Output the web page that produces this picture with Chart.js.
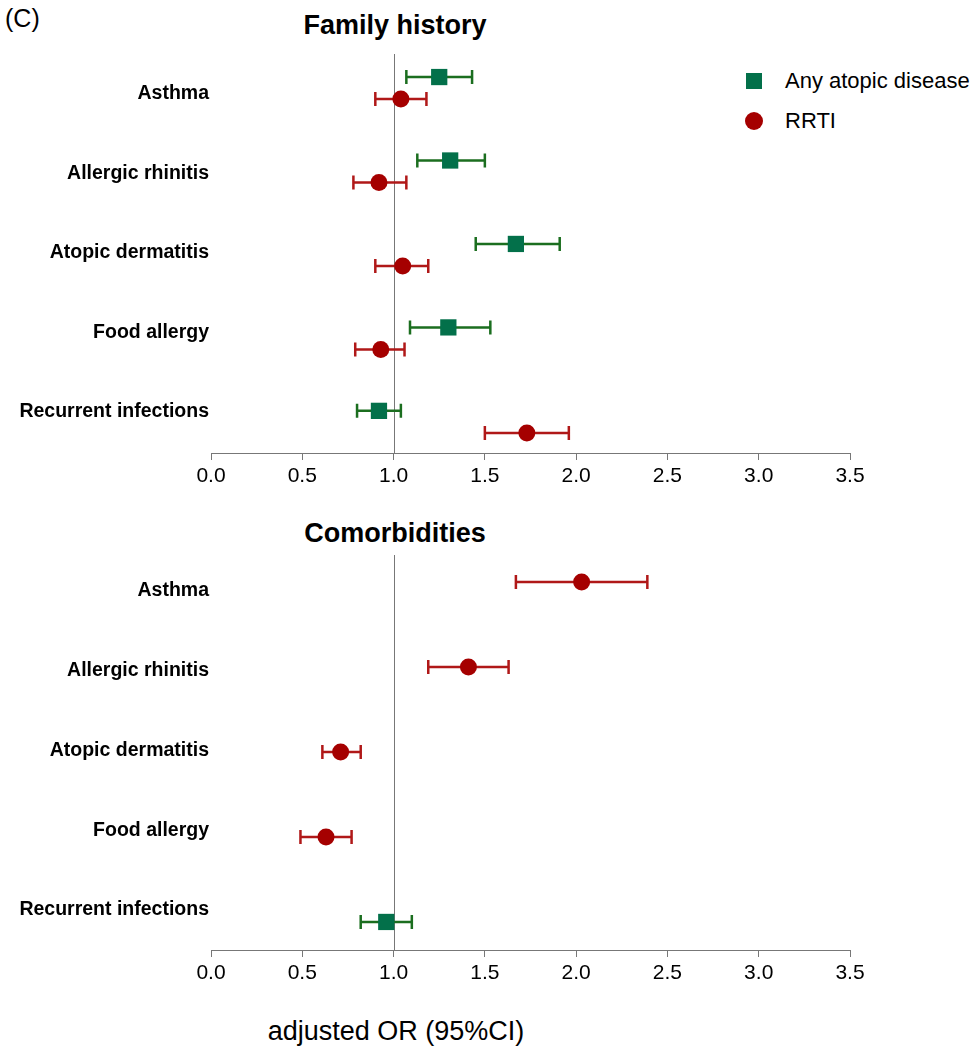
<!DOCTYPE html>
<html>
<head>
<meta charset="utf-8">
<script src="https://cdn.jsdelivr.net/npm/chart.js@4.4.1/dist/chart.umd.min.js"></script>
<style>
  body { margin: 0; background: #fff; font-family: "Liberation Sans", Arial, sans-serif; }
  #wrap { position: relative; width: 974px; height: 1050px; overflow: hidden; }
  canvas { position: absolute; left: 0; }
  .txt { position: absolute; white-space: nowrap; color: #000; }
  .title { font-weight: bold; font-size: 27px; transform: translate(-50%, -50%); }
  .leg { position: absolute; font-size: 22px; transform: translateY(-50%); white-space: nowrap; }
</style>
</head>
<body>
<div id="wrap">
  <div class="txt" style="left:5px; top:18px; font-size:25px; transform:translateY(-50%);">(C)</div>
  <div class="txt title" style="left:395px; top:25px;">Family history</div>
  <div class="txt title" style="left:395px; top:533px;">Comorbidities</div>
  <div class="txt" style="left:396px; top:1031px; font-size:27px; transform:translate(-50%,-50%);">adjusted OR (95%CI)</div>

  <div style="position:absolute; left:746px; top:73px; width:16px; height:16px; background:#03704a;"></div>
  <div class="leg" style="left:785px; top:81px;">Any atopic disease</div>
  <div style="position:absolute; left:745px; top:112px; width:18px; height:18px; border-radius:50%; background:#a50000;"></div>
  <div class="leg" style="left:785px; top:121px;">RRTI</div>

  <canvas id="top" width="974" height="500" style="top:0px"></canvas>
  <canvas id="bot" width="974" height="500" style="top:500px"></canvas>
</div>
<script>
const categories = ['Asthma', 'Allergic rhinitis', 'Atopic dermatitis', 'Food allergy', 'Recurrent infections'];
const xTicks = [0, 0.5, 1, 1.5, 2, 2.5, 3, 3.5];

// Family history
const famAtopicOR = [1.25, 1.31, 1.67, 1.30, 0.92];
const famAtopicLo = [1.07, 1.13, 1.45, 1.09, 0.80];
const famAtopicHi = [1.43, 1.50, 1.91, 1.53, 1.04];
const famRrtiOR = [1.04, 0.92, 1.05, 0.93, 1.73];
const famRrtiLo = [0.90, 0.78, 0.90, 0.79, 1.50];
const famRrtiHi = [1.18, 1.07, 1.19, 1.06, 1.96];

// Comorbidities
const comAtopicOR = [null, null, null, null, 0.96];
const comAtopicLo = [null, null, null, null, 0.82];
const comAtopicHi = [null, null, null, null, 1.10];
const comRrtiOR = [2.03, 1.41, 0.71, 0.63, null];
const comRrtiLo = [1.67, 1.19, 0.61, 0.49, null];
const comRrtiHi = [2.39, 1.63, 0.82, 0.77, null];

const GREEN = '#03704a', GREEN_BAR = '#1b6e1f';
const RED = '#a50000', RED_BAR = '#b01818';
const FONT = '"Liberation Sans", Arial, sans-serif';

function pts(vals, off) {
    let out = [];
    vals.forEach((v, i) => { if (v != null) out.push({x: v, y: i + off}); });
    return out;
}
function ciList(vals, lo, hi, off) {
    let out = [];
    vals.forEach((v, i) => { if (v != null) out.push({lo: lo[i], hi: hi[i], y: i + off}); });
    return out;
}

// draws the CI whiskers + the reference line at OR = 1
const forestPlugin = {
    id: 'forest',
    beforeDatasetsDraw(chart) {
        const ctx = chart.ctx;
        const xs = chart.scales.x, ys = chart.scales.y, area = chart.chartArea;
        ctx.save();
        ctx.strokeStyle = '#777';
        ctx.lineWidth = 1;
        let x1 = Math.round(xs.getPixelForValue(1)) + 0.5;
        ctx.beginPath();
        ctx.moveTo(x1, area.top);
        ctx.lineTo(x1, area.bottom);
        ctx.stroke();

        chart.data.datasets.forEach(ds => {
            ctx.strokeStyle = ds.barColor;
            ctx.lineWidth = 2.5;
            ds.ci.forEach(c => {
                let a = xs.getPixelForValue(c.lo), b = xs.getPixelForValue(c.hi), y = ys.getPixelForValue(c.y);
                ctx.beginPath();
                ctx.moveTo(a, y); ctx.lineTo(b, y);
                ctx.moveTo(a, y - 7); ctx.lineTo(a, y + 7);
                ctx.moveTo(b, y - 7); ctx.lineTo(b, y + 7);
                ctx.stroke();
            });
        });
        ctx.restore();
    }
};

function makeChart(id, cfg) {
    return new Chart(document.getElementById(id), {
        type: 'scatter',
        data: {
            datasets: [
                {
                    label: 'Any atopic disease',
                    data: pts(cfg.atopic, cfg.offA),
                    ci: ciList(cfg.atopic, cfg.atopicLo, cfg.atopicHi, cfg.offA),
                    barColor: GREEN_BAR,
                    xAxisID: 'x', yAxisID: 'y',
                    pointStyle: 'rect',
                    pointRadius: 11.5,
                    backgroundColor: GREEN,
                    borderWidth: 0
                },
                {
                    label: 'RRTI',
                    data: pts(cfg.rrti, cfg.offR),
                    ci: ciList(cfg.rrti, cfg.rrtiLo, cfg.rrtiHi, cfg.offR),
                    barColor: RED_BAR,
                    xAxisID: 'x', yAxisID: 'y',
                    pointStyle: 'circle',
                    pointRadius: 8.5,
                    backgroundColor: RED,
                    borderWidth: 0
                }
            ]
        },
        options: {
            responsive: false,
            animation: false,
            devicePixelRatio: 1,
            layout: { padding: { top: cfg.padTop, right: 124, left: 0, bottom: 0 } },
            plugins: { legend: { display: false }, tooltip: { enabled: false } },
            scales: {
                x: {
                    type: 'linear',
                    min: 0, max: 3.5,
                    afterFit: s => { s.height = cfg.axisH; },
                    afterBuildTicks: s => { s.ticks = xTicks.map(v => ({value: v})); },
                    grid: { drawOnChartArea: false, drawTicks: true, tickLength: 7, color: '#777' },
                    border: { display: true, color: '#777', width: 1 },
                    ticks: {
                        padding: 4,
                        color: '#000',
                        font: { family: FONT, size: 21 },
                        callback: v => v.toFixed(1),
                        maxRotation: 0
                    }
                },
                yl: {
                    type: 'linear',
                    position: 'left',
                    reverse: true,
                    min: cfg.labMin, max: cfg.labMax,
                    afterFit: s => { s.width = 211; },
                    afterBuildTicks: s => { s.ticks = categories.map((c, i) => ({value: i})); },
                    grid: { display: false, drawTicks: false, tickLength: 0 },
                    border: { display: false },
                    ticks: {
                        padding: 2,
                        color: '#000',
                        font: { family: FONT, size: 19.5, weight: 'bold' },
                        callback: v => categories[v]
                    }
                },
                y: {
                    type: 'linear',
                    display: false,
                    reverse: true,
                    min: cfg.datMin, max: cfg.datMax
                }
            }
        },
        plugins: [forestPlugin]
    });
}

makeChart('top', {
    atopic: famAtopicOR, atopicLo: famAtopicLo, atopicHi: famAtopicHi,
    rrti: famRrtiOR, rrtiLo: famRrtiLo, rrtiHi: famRrtiHi,
    offA: 0, offR: 0.264,
    padTop: 54, axisH: 47,
    labMin: -0.497, labMax: 4.515,
    datMin: -0.276, datMax: 4.505
});

makeChart('bot', {
    atopic: comAtopicOR, atopicLo: comAtopicLo, atopicHi: comAtopicHi,
    rrti: comRrtiOR, rrtiLo: comRrtiLo, rrtiHi: comRrtiHi,
    offA: 0, offR: 0,
    padTop: 55, axisH: 50,
    labMin: -0.451, labMax: 4.50,
    datMin: -0.318, datMax: 4.33
});
</script>
</body>
</html>
